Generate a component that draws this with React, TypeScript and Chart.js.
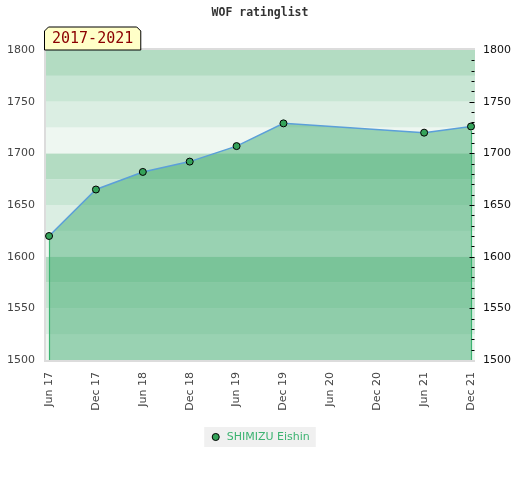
import React, { useEffect, useRef } from 'react';
import { Chart, registerables } from 'chart.js';

Chart.register(...registerables);

const chartTitle = 'WOF ratinglist';
const periodText = '2017-2021';
const playerName = 'SHIMIZU Eishin';
const periodLabels = ['Jun 17', 'Dec 17', 'Jun 18', 'Dec 18', 'Jun 19', 'Dec 19', 'Jun 20', 'Dec 20', 'Jun 21', 'Dec 21'];
const ratings: (number | null)[] = [1620, 1665, 1682, 1692, 1707, 1729, null, null, 1720, 1726];
const yMin = 1500;
const yMax = 1800;
const yStep = 50;
const bandStep = 25;
const minorStep = 10;

const bandColors = ['#eef7f1', '#dbeee3', '#c8e6d4', '#b3dcc2'];

const decorPlugin = {
  id: 'decor',
  beforeDraw(chart: any) {
    const { ctx, chartArea, scales } = chart;
    const { left, right, top, bottom } = chartArea;
    const y = scales.y;
    ctx.save();
    for (let v = yMin; v < yMax; v += bandStep) {
      const idx = Math.round((v % 100) / bandStep);
      const yTop = y.getPixelForValue(v + bandStep);
      const yBot = y.getPixelForValue(v);
      ctx.fillStyle = bandColors[idx];
      ctx.fillRect(left, yTop, right - left, yBot - yTop);
    }
    ctx.strokeStyle = '#dcdcdc';
    ctx.lineWidth = 2;
    ctx.beginPath();
    ctx.moveTo(right, top - 1);
    ctx.lineTo(left - 1, top - 1);
    ctx.lineTo(left - 1, bottom + 1);
    ctx.lineTo(right, bottom + 1);
    ctx.stroke();
    const lg = chart.legend;
    if (lg && lg.legendHitBoxes && lg.legendHitBoxes[0]) {
      const hb = lg.legendHitBoxes[0];
      ctx.fillStyle = '#f0f0f0';
      ctx.fillRect(hb.left - 6, hb.top - 4.5, hb.width + 12, hb.height + 9);
    }
    ctx.restore();
  },
  afterDatasetsDraw(chart: any) {
    const { ctx, chartArea, scales } = chart;
    const { right, bottom } = chartArea;
    const meta = chart.getDatasetMeta(0);
    const pts = meta.data;
    ctx.save();
    if (pts.length) {
      ctx.strokeStyle = '#3cb371';
      ctx.lineWidth = 1.2;
      [pts[0], pts[pts.length - 1]].forEach((p: any) => {
        ctx.beginPath();
        ctx.moveTo(Math.round(p.x) + 0.5, p.y + 4);
        ctx.lineTo(Math.round(p.x) + 0.5, bottom);
        ctx.stroke();
      });
    }
    const y2 = scales.y2;
    ctx.strokeStyle = '#000';
    ctx.lineWidth = 1;
    for (let v = yMin + minorStep; v < yMax; v += minorStep) {
      const py = Math.round(y2.getPixelForValue(v)) + 0.5;
      const len = v % yStep === 0 ? 5 : 3;
      ctx.beginPath();
      ctx.moveTo(right - 0.5 - len, py);
      ctx.lineTo(right - 0.5, py);
      ctx.stroke();
    }
    ctx.restore();
  },
  afterDraw(chart: any) {
    const { ctx, chartArea } = chart;
    const { left, top } = chartArea;
    ctx.save();
    ctx.font = '15px "DejaVu Sans Mono"';
    const tw = ctx.measureText(periodText).width;
    const w = tw + 15;
    const h = 23;
    const x0 = left - 1.5;
    const y0 = top - h;
    const c = 4;
    ctx.beginPath();
    ctx.moveTo(x0, top);
    ctx.lineTo(x0, y0 + c);
    ctx.lineTo(x0 + c, y0);
    ctx.lineTo(x0 + w - c, y0);
    ctx.lineTo(x0 + w, y0 + c);
    ctx.lineTo(x0 + w, top);
    ctx.closePath();
    ctx.fillStyle = '#ffffc8';
    ctx.fill();
    ctx.strokeStyle = '#000';
    ctx.lineWidth = 1;
    ctx.stroke();
    ctx.fillStyle = '#8b0000';
    ctx.textBaseline = 'middle';
    ctx.textAlign = 'left';
    ctx.fillText(periodText, x0 + 7.5, y0 + h / 2 + 1);
    ctx.restore();
  },
};

export default function App() {
  const ref = useRef<HTMLCanvasElement | null>(null);

  useEffect(() => {
    document.body.style.margin = '0';
    const canvas = ref.current;
    if (!canvas) return;
    const points = ratings
      .map((v, i) => (v == null ? null : { x: i, y: v }))
      .filter((p) => p !== null) as { x: number; y: number }[];

    const tickFont = { family: '"DejaVu Sans"', size: 11 };
    const plain = (v: any) => String(v);

    const chart = new Chart(canvas, {
      type: 'line',
      data: {
        datasets: [
          {
            label: playerName,
            data: points,
            borderColor: '#5b9fd9',
            borderWidth: 1.5,
            backgroundColor: 'rgba(61,170,108,0.48)',
            fill: 'start',
            tension: 0,
            pointRadius: 3.5,
            pointHoverRadius: 3.5,
            pointBackgroundColor: '#35a35a',
            pointBorderColor: '#000',
            pointBorderWidth: 1,
            spanGaps: true,
            clip: false as any,
          },
        ],
      },
      plugins: [decorPlugin],
      options: {
        animation: false,
        responsive: false,
        devicePixelRatio: 1,
        layout: { padding: { bottom: 27.5 } },
        scales: {
          x: {
            type: 'linear',
            min: -0.065,
            max: 9.085,
            afterBuildTicks: (s: any) => {
              s.ticks = periodLabels.map((_, i) => ({ value: i }));
            },
            afterFit: (s: any) => {
              s.height = 61.5;
            },
            ticks: {
              autoSkip: false,
              minRotation: 90,
              maxRotation: 90,
              padding: 12,
              color: '#444',
              font: tickFont,
              callback: (v: any) => periodLabels[Math.round(Number(v))] ?? '',
            },
            grid: { display: false, drawTicks: false },
            border: { display: false },
          },
          y: {
            position: 'left',
            min: yMin,
            max: yMax,
            afterFit: (s: any) => {
              s.width = 46;
            },
            ticks: { stepSize: yStep, padding: 11, color: '#444', font: tickFont, callback: plain },
            grid: { display: false, drawTicks: false },
            border: { display: false },
          },
          y2: {
            position: 'right',
            min: yMin,
            max: yMax,
            afterFit: (s: any) => {
              s.width = 45;
            },
            ticks: { stepSize: yStep, padding: 8, color: '#111', font: tickFont, callback: plain },
            grid: { display: false, drawTicks: false },
            border: { display: false },
          },
        },
        plugins: {
          title: {
            display: true,
            text: chartTitle,
            color: '#333',
            font: { family: '"DejaVu Sans Mono"', size: 11.5, weight: 'bold', lineHeight: 1.2 },
            padding: { top: 6, bottom: 30.2 },
          },
          legend: {
            display: true,
            position: 'bottom',
            labels: {
              usePointStyle: true,
              boxWidth: 11,
              boxHeight: 5,
              padding: 10,
              color: '#3cb371',
              font: { family: '"DejaVu Sans"', size: 11 },
              generateLabels: () => [
                {
                  text: playerName,
                  fillStyle: '#35a35a',
                  strokeStyle: '#000',
                  lineWidth: 1,
                  pointStyle: 'circle',
                  datasetIndex: 0,
                  hidden: false,
                  fontColor: '#3cb371',
                } as any,
              ],
            },
          },
          tooltip: { enabled: false },
        },
      } as any,
    });
    return () => chart.destroy();
  }, []);

  return (
    <div style={{ width: 520, height: 480 }}>
      <canvas ref={ref} width={520} height={480} style={{ display: 'block', width: 520, height: 480 }} />
    </div>
  );
}
